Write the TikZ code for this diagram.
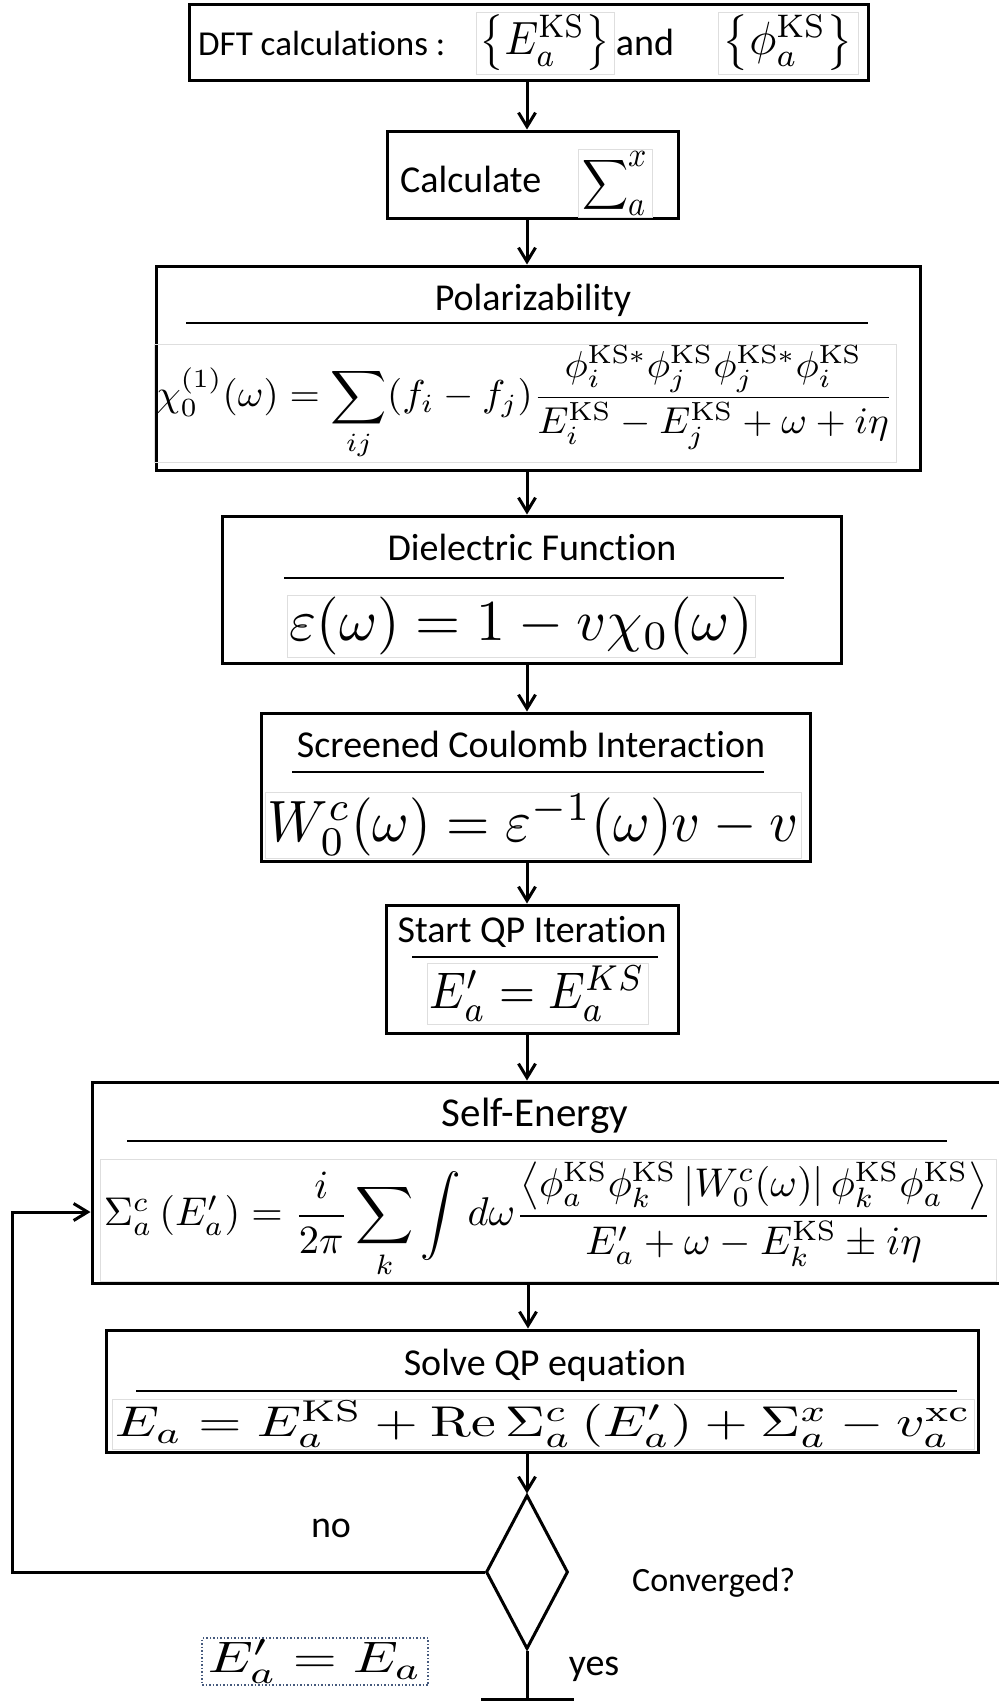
\documentclass[tikz,border=0pt]{standalone}
\usepackage[no-math]{fontspec}
\setmainfont{Carlito}[Ligatures=NoCommon]
\usepackage{amsmath}
\usepackage{graphicx}
\usetikzlibrary{arrows.meta,shapes.geometric}
\begin{document}
\begin{tikzpicture}[x=1pt,y=-1pt,
  box/.style={draw, line width=3pt, inner sep=0pt},
  ttl/.style={font=\fontsize{38}{44}\selectfont, inner sep=0pt, anchor=base},
  sepl/.style={line width=1.8pt},
  fml/.style={draw=black!13, line width=1pt, inner sep=0pt},
  conn/.style={line width=3pt},
  arr/.style={conn, -{Straight Barb[length=14pt,width=17pt]}},
]
\useasboundingbox (0,0) rectangle (999,1701);
\coordinate (ax) at (527,0);
\coordinate (bx) at (528,0);
% box 1
\node[box, minimum width=679pt, minimum height=76pt] (b1) at (528.5,42) {};
\node[ttl, anchor=base west, font=\fontsize{35}{41}\selectfont] (dft) at (198,55) {DFT calculations :};
\node[fml, minimum width=138pt, minimum height=62pt] (f1a) at (545,43) {\resizebox*{130pt}{56pt}{$\left\{E_a^{\mathrm{KS}}\right\}$}};
\node[ttl] (and) at (645,55) {and};
\node[fml, minimum width=140pt, minimum height=62pt] (f1b) at (788,43) {\resizebox*{130pt}{56pt}{$\left\{\phi_a^{\mathrm{KS}}\right\}$}};
% box 2
\node[box, minimum width=291pt, minimum height=87pt] (b2) at (532.5,174.5) {};
\node[ttl, anchor=base west] (calc) at (400,192) {Calculate};
\node[fml, minimum width=74pt, minimum height=68pt] (f2) at (615,183) {\resizebox*{66pt}{64pt}{$\displaystyle\sum\nolimits_{\textstyle a}^{\textstyle x}$}};
% box 3
\node[box, minimum width=764pt, minimum height=204pt] (b3) at (538,368) {};
\node[ttl] (t3) at (533,310) {Polarizability};
\draw[sepl] (186,323) -- (868,323);
\node[fml, minimum width=742pt, minimum height=118pt] (f3) at (525,403) {\resizebox*{737pt}{114pt}{$\displaystyle\chi_0^{(1)}(\omega)=\sum_{ij}(f_i-f_j)\frac{\phi_i^{\mathrm{KS}*}\phi_j^{\mathrm{KS}}\phi_j^{\mathrm{KS}*}\phi_i^{\mathrm{KS}}}{E_i^{\mathrm{KS}}-E_j^{\mathrm{KS}}+\omega+i\eta}$}};
% box 4
\node[box, minimum width=619pt, minimum height=147pt] (b4) at (531.5,589.5) {};
\node[ttl] (t4) at (532,560) {Dielectric Function};
\draw[sepl] (284,578) -- (784,578);
\node[fml, minimum width=468pt, minimum height=62pt] (f4) at (521,626) {\resizebox*{463pt}{58pt}{$\varepsilon(\omega)=1-v\chi_0(\omega)$}};
% box 5
\node[box, minimum width=549pt, minimum height=148pt] (b5) at (535.5,787) {};
\node[ttl] (t5) at (531,757) {Screened Coulomb Interaction};
\draw[sepl] (292,772) -- (764,772);
\node[fml, minimum width=536pt, minimum height=66pt] (f5) at (533,825) {\resizebox*{530pt}{62pt}{$W_0^c(\omega)=\varepsilon^{-1}(\omega)v-v$}};
% box 6
\node[box, minimum width=292pt, minimum height=128pt] (b6) at (532,969) {};
\node[ttl] (t6) at (532,942) {Start QP Iteration};
\draw[sepl] (412,957) -- (658,957);
\node[fml, minimum width=221pt, minimum height=61pt] (f6) at (537.5,993.5) {\resizebox*{215pt}{56pt}{$E'_a=E_a^{KS}$}};
% box 7
\node[box, minimum width=918pt, minimum height=201pt] (b7) at (551,1182.5) {};
\node[ttl, font=\fontsize{41}{48}\selectfont] (t7) at (535,1126) {Self-Energy};
\draw[sepl] (127,1141) -- (947,1141);
\node[fml, minimum width=896pt, minimum height=122pt] (f7) at (548,1220) {\resizebox*{888pt}{116pt}{$\Sigma_a^c\left(E'_a\right)=\dfrac{i}{2\pi}\displaystyle\sum_k\int d\omega\frac{\left\langle\phi_a^{\mathrm{KS}}\phi_k^{\mathrm{KS}}\left|W_0^c(\omega)\right|\phi_k^{\mathrm{KS}}\phi_a^{\mathrm{KS}}\right\rangle}{E'_a+\omega-E_k^{\mathrm{KS}}\pm i\eta}$}};
% box 8
\node[box, minimum width=872pt, minimum height=122pt] (b8) at (542,1391) {};
\node[ttl] (t8) at (545,1375) {Solve QP equation};
\draw[sepl] (136,1391) -- (957,1391);
\node[fml, minimum width=862pt, minimum height=50pt] (f8) at (543,1424) {\resizebox*{856pt}{47pt}{$E_a=E_a^{\mathrm{KS}}+\mathrm{Re}\,\Sigma_a^c\left(E'_a\right)+\Sigma_a^x-v_a^{\mathrm{xc}}$}};
% decision
\node[draw, diamond, line width=3pt, inner sep=0pt, minimum width=82pt, minimum height=154pt] (dia) at (527,1572) {};
\node[ttl] (no) at (331,1537) {no};
\node[ttl] (yes) at (594,1675) {yes};
\node[ttl, anchor=base west, font=\fontsize{34}{40}\selectfont] (conv) at (632,1591) {Converged?};
\node[draw={rgb,255:red,70;green,90;blue,125}, dotted, line width=1.5pt, inner sep=0pt, minimum width=226pt, minimum height=47pt] (f9) at (315,1661.5) {\resizebox*{214pt}{44pt}{$E'_a=E_a$}};
% connectors
\draw[arr] (b1.south -| ax) -- (b2.north -| ax);
\draw[arr] (b2.south -| ax) -- (b3.north -| ax);
\draw[arr] (b3.south -| ax) -- (b4.north -| ax);
\draw[arr] (b4.south -| ax) -- (b5.north -| ax);
\draw[arr] (b5.south -| ax) -- (b6.north -| ax);
\draw[arr] (b6.south -| ax) -- (b7.north -| ax);
\draw[arr] (b7.south -| bx) -- (b8.north -| bx);
\draw[arr] (b8.south -| dia.north) -- (dia.north);
\coordinate (lp) at (12,1212);
\draw[arr] (dia.west) -- (dia.west -| lp) -- (lp) -- (lp -| b7.west);
\coordinate (endc) at (527,1699);
\draw[conn] (dia.south) -- (endc);
\coordinate (barl) at (481,1699);
\coordinate (barr) at (574,1699);
\draw[conn] (barl) -- (barr);
\end{tikzpicture}
\end{document}
